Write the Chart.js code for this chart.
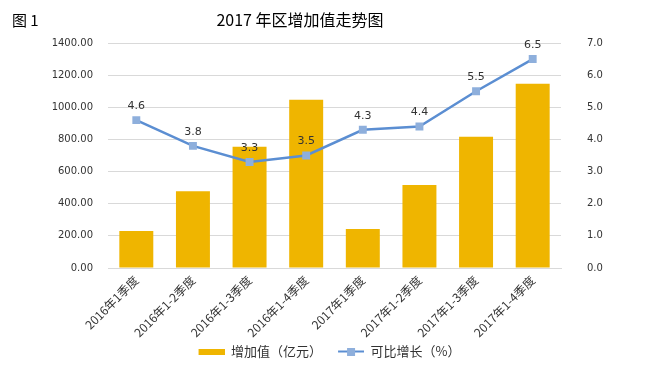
<!DOCTYPE html>
<html>
<head>
<meta charset="utf-8">
<script src="https://cdn.jsdelivr.net/npm/chart.js@4/dist/chart.umd.min.js"></script>
<style>
  html, body { margin: 0; padding: 0; background: #fff; }
  #wrap { width: 648px; height: 368px; }
</style>
</head>
<body>
<div id="wrap"><canvas id="chartTrend" width="648" height="368"></canvas></div>
<script>
// datos
const categorias = ['2016年1季度', '2016年1-2季度', '2016年1-3季度', '2016年1-4季度',
                    '2017年1季度', '2017年1-2季度', '2017年1-3季度', '2017年1-4季度'];
const valorAgregado = [230, 477, 754, 1047, 242, 516, 816, 1146];
const crecimiento = [4.6, 3.8, 3.3, 3.5, 4.3, 4.4, 5.5, 6.5];
const serieNombres = ['增加值（亿元）', '可比增长（%）'];
const tituloTexto = '2017 年区增加值走势图';
const figuraTexto = '图 1';

const colorBarra = '#EFB500';
const colorLinea = '#5B8ED2';
const colorPunto = '#8EAFDC';
const fuenteNum = "'DejaVu Sans', Verdana, sans-serif";
const fuenteCJK = "'Noto Sans CJK SC', 'DejaVu Sans', sans-serif";

// iconos de la leyenda (margen transparente a la izquierda para separar los items)
const anchoIcono = 37;
function iconoBarra() {
    const c = document.createElement('canvas');
    c.width = anchoIcono; c.height = 6;
    const g = c.getContext('2d');
    g.fillStyle = colorBarra;
    g.fillRect(anchoIcono - 26, 0, 26, 6);
    return c;
}
function iconoLinea() {
    const c = document.createElement('canvas');
    c.width = anchoIcono; c.height = 8;
    const g = c.getContext('2d');
    const x0 = anchoIcono - 26;
    g.strokeStyle = colorLinea;
    g.lineWidth = 2;
    g.beginPath(); g.moveTo(x0, 4); g.lineTo(anchoIcono, 4); g.stroke();
    g.fillStyle = colorPunto;
    g.fillRect(x0 + 9, 0, 8, 8);
    return c;
}

const textosFijos = {
    id: 'textosFijos',
    afterDraw(chart) {
        const ctx = chart.ctx;
        ctx.save();
        ctx.fillStyle = '#000';
        ctx.textBaseline = 'middle';
        ctx.textAlign = 'left';
        ctx.font = '15px ' + fuenteCJK;
        ctx.fillText(figuraTexto, 12, 20);
        ctx.textAlign = 'center';
        ctx.font = '16px ' + fuenteCJK;
        ctx.fillText(tituloTexto, 300, 20);
        ctx.restore();
    }
};

const etiquetasLinea = {
    id: 'etiquetasLinea',
    afterDatasetsDraw(chart) {
        const ctx = chart.ctx;
        const meta = chart.getDatasetMeta(1);
        ctx.save();
        ctx.fillStyle = '#333';
        ctx.font = '11px ' + fuenteNum;
        ctx.textAlign = 'center';
        ctx.textBaseline = 'middle';
        meta.data.forEach((p, i) => {
            ctx.fillText(crecimiento[i].toFixed(1), p.x, p.y - 14);
        });
        ctx.restore();
    }
};

const ctx = document.getElementById('chartTrend');
const chartTrend = new Chart(ctx, {
    type: 'bar',
    data: {
        labels: categorias,
        datasets: [{
            label: serieNombres[0],
            data: valorAgregado,
            backgroundColor: colorBarra,
            yAxisID: 'y',
            categoryPercentage: 0.6,
            barPercentage: 1,
            order: 2
        }, {
            type: 'line',
            label: serieNombres[1],
            data: crecimiento,
            borderColor: colorLinea,
            borderWidth: 2.5,
            backgroundColor: colorPunto,
            pointStyle: 'rect',
            pointRadius: 5.6,
            pointBorderWidth: 0,
            pointBackgroundColor: colorPunto,
            tension: 0,
            yAxisID: 'y1',
            order: 1
        }]
    },
    options: {
        responsive: false,
        animation: false,
        layout: { padding: { top: 43, left: 0, right: 0, bottom: 0 } },
        plugins: {
            legend: {
                display: true,
                position: 'bottom',
                labels: {
                    usePointStyle: true,
                    pointStyleWidth: anchoIcono,
                    color: '#333',
                    font: { size: 13, family: fuenteCJK },
                    padding: 5,
                    generateLabels: chart => chart.data.datasets.map((ds, i) => ({
                        text: ds.label,
                        pointStyle: i === 0 ? iconoBarra() : iconoLinea(),
                        fillStyle: ds.backgroundColor,
                        strokeStyle: ds.borderColor,
                        lineWidth: 0,
                        fontColor: '#333',
                        datasetIndex: i
                    }))
                }
            },
            tooltip: { enabled: false }
        },
        scales: {
            x: {
                grid: { display: false, drawTicks: false },
                border: { color: '#D9D9D9' },
                ticks: {
                    color: '#333',
                    font: { size: 12, family: fuenteCJK },
                    minRotation: 45,
                    maxRotation: 45,
                    padding: 5,
                    autoSkip: false
                },
                afterFit: s => { s.height = 72; }
            },
            y: {
                position: 'left',
                min: 0,
                max: 1400,
                grid: { color: '#D9D9D9', drawTicks: false },
                border: { display: false },
                ticks: {
                    stepSize: 200,
                    padding: 15,
                    color: '#333',
                    font: { size: 10, family: fuenteNum },
                    callback: v => v.toFixed(2)
                },
                afterFit: s => { s.width = 108; }
            },
            y1: {
                position: 'right',
                min: 0,
                max: 7,
                grid: { display: false, drawTicks: false },
                border: { display: false },
                ticks: {
                    stepSize: 1,
                    padding: 26,
                    color: '#333',
                    font: { size: 10, family: fuenteNum },
                    callback: v => v.toFixed(1)
                },
                afterFit: s => { s.width = 87; }
            }
        }
    },
    plugins: [textosFijos, etiquetasLinea]
});
</script>
</body>
</html>
